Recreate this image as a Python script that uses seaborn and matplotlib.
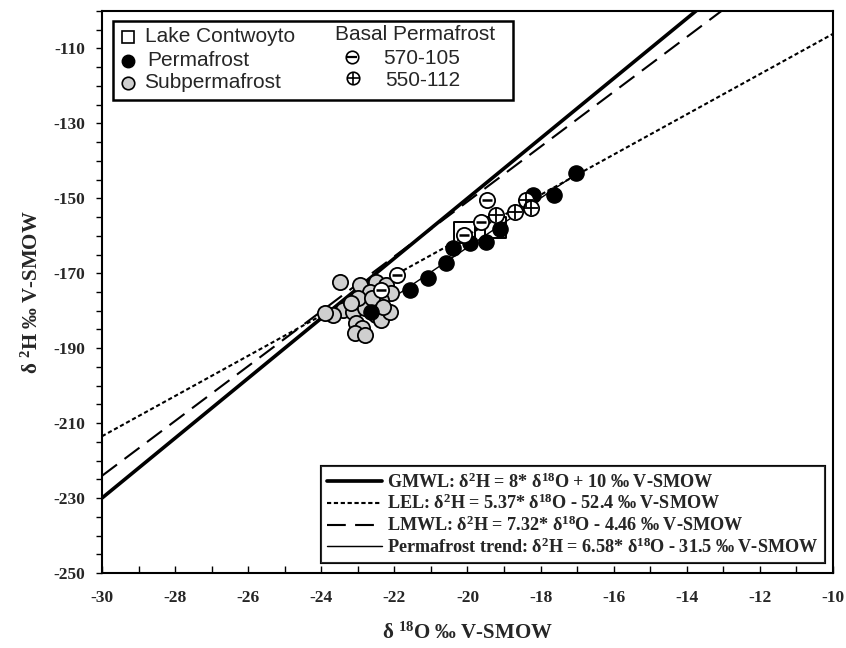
import numpy as np
import pandas as pd
import matplotlib
matplotlib.use("Agg")
import matplotlib.pyplot as plt
from matplotlib.patches import Rectangle
import seaborn as sns

# ---------------- data ----------------
perm_x = [-17.02, -17.63, -18.21, -19.12, -19.50, -19.92, -20.40, -20.58, -21.09, -21.58, -22.63]
perm_y = [-143.3, -149.1, -149.1, -158.2, -161.6, -162.0, -163.3, -167.3, -171.3, -174.5, -180.3]

sub_x = [-23.50, -22.95, -22.49, -22.22, -22.68, -22.08, -23.41, -23.13, -22.81, -22.36,
         -22.49, -23.68, -23.04, -22.90, -23.09, -22.81, -22.36, -22.13, -23.90, -23.00,
         -22.60, -23.20, -22.30]
sub_y = [-172.2, -173.1, -172.2, -173.1, -174.9, -175.3, -179.8, -180.3, -179.3, -177.1,
         -181.1, -181.1, -183.3, -184.7, -186.0, -186.5, -182.5, -180.3, -180.5, -176.5,
         -176.5, -178.0, -179.0]

lake_x = [-20.08, -19.23]
lake_y = [-159.2, -157.8]

b570_x = [-19.48, -19.62, -20.10, -21.93, -22.36]
b570_y = [-150.4, -156.4, -159.8, -170.5, -174.5]

b550_x = [-18.39, -18.25, -18.71, -19.21]
b550_y = [-150.4, -152.7, -153.6, -154.4]

line_names = ["GMWL", "LEL", "LMWL", "Permafrost trend"]
line_slopes = [8.0, 5.37, 7.32, 6.58]
line_intercepts = [10.0, -52.4, -4.46, -31.5]
line_xstart = [-30.0, -30.0, -30.0, -22.6]
line_xend = [-10.0, -10.0, -10.0, -17.0]

x_ticks = [-30, -28, -26, -24, -22, -20, -18, -16, -14, -12, -10]
y_ticks = [-250, -230, -210, -190, -170, -150, -130, -110]

# ---------------- style ----------------
sns.set_theme(style="white")
plt.rcParams["font.family"] = ["Liberation Serif", "DejaVu Serif"]
plt.rcParams["mathtext.fontset"] = "custom"
plt.rcParams["mathtext.rm"] = "Liberation Serif:bold"
plt.rcParams["mathtext.default"] = "rm"

fig = plt.figure(figsize=(8.46, 6.48), dpi=100)
ax = fig.add_axes([102 / 846, 1 - 573 / 648, (833 - 102) / 846, (573 - 11) / 648])

# ---------------- lines ----------------
line_styles = [dict(lw=2.6, dashes=None),
               dict(lw=1.5, dashes=(2.0, 1.3)),
               dict(lw=1.5, dashes=(9, 4.5)),
               dict(lw=1.0, dashes=None)]
handles = []
labels = []
for name, m, b, x0, x1, st in zip(line_names, line_slopes, line_intercepts,
                                 line_xstart, line_xend, line_styles):
    xs = np.array([x0, x1])
    df = pd.DataFrame({"x": xs, "y": m * xs + b})
    sns.lineplot(data=df, x="x", y="y", ax=ax, color="black", lw=st["lw"],
                 zorder=2, legend=False)
    ln = ax.lines[-1]
    if st["dashes"] is not None:
        ln.set_dashes(st["dashes"])
    handles.append(ln)
    sign = "+" if b >= 0 else "-"
    labels.append(f"{name}: δ$^{{2}}$H = {m:g}* δ$^{{18}}$O {sign} {abs(b):g} ‰ V-SMOW")

# ---------------- points ----------------
ms = 120
sns.scatterplot(x=sub_x, y=sub_y, ax=ax, s=ms, color="#cfcfcf", edgecolor="black",
                linewidth=1.3, zorder=3, legend=False)
sns.scatterplot(x=perm_x, y=perm_y, ax=ax, s=ms, color="black", edgecolor="black",
                linewidth=1.0, zorder=4, legend=False)
sns.scatterplot(x=lake_x, y=lake_y, ax=ax, s=230, marker="s", facecolor="none",
                edgecolor="black", linewidth=1.4, zorder=4, legend=False)
sns.scatterplot(x=b570_x, y=b570_y, ax=ax, s=ms, color="white", edgecolor="black",
                linewidth=1.3, zorder=5, legend=False)
sns.scatterplot(x=b570_x, y=b570_y, ax=ax, s=60, marker="_", color="black",
                linewidth=1.8, zorder=6, legend=False)
sns.scatterplot(x=b550_x, y=b550_y, ax=ax, s=ms, color="white", edgecolor="black",
                linewidth=1.3, zorder=5, legend=False)
sns.scatterplot(x=b550_x, y=b550_y, ax=ax, s=110, marker="+", color="black",
                linewidth=1.3, zorder=6, legend=False)

# ---------------- axes ----------------
ax.set_xlim(-30, -10)
ax.set_ylim(-250, -100)
ax.set_xticks(x_ticks)
ax.set_xticklabels([str(t) for t in x_ticks])
ax.set_yticks(y_ticks)
ax.set_yticklabels([str(t) for t in y_ticks])
ax.set_xticks(np.arange(-30, -9, 1), minor=True)
ax.set_yticks(np.arange(-250, -99, 5), minor=True)
ax.tick_params(axis="x", which="both", direction="in", length=5, width=1, color="black",
               bottom=True, top=False, pad=12)
ax.tick_params(axis="y", which="both", direction="out", length=4, width=1, color="black",
               left=True, right=False, pad=8)
for lab in ax.get_xticklabels() + ax.get_yticklabels():
    lab.set_fontweight("bold")
    lab.set_fontsize(12.5)
for sp in ax.spines.values():
    sp.set_color("black")
    sp.set_linewidth(1.5)

ax.set_xlabel("δ $^{18}$O ‰ V-SMOW", fontsize=15, fontweight="bold", labelpad=12)
ax.set_ylabel("δ $^{2}$H ‰ V-SMOW", fontsize=15, fontweight="bold", labelpad=8)
ax.grid(False)

# ---------------- legend: lines ----------------
leg2 = ax.legend(handles, labels, loc="lower right", bbox_to_anchor=(0.9885, 0.018),
                 frameon=True, fancybox=False, edgecolor="black",
                 prop={"family": ["Liberation Serif", "DejaVu Serif"], "weight": "bold", "size": 13.1},
                 handlelength=3.0, handletextpad=0.3, labelspacing=0.12,
                 borderpad=0.35, borderaxespad=0)
leg2.get_frame().set_linewidth(1.5)
ax.add_artist(leg2)

# ---------------- legend: symbols (manual box) ----------------
def fx(px):
    return (px - 102) / (833 - 102)

def fy(py):
    return (573 - py) / (573 - 11)

box = Rectangle((fx(113), fy(100)), fx(513) - fx(113), fy(21) - fy(100),
                transform=ax.transAxes, fill=True, facecolor="white",
                edgecolor="black", lw=1.8, zorder=10)
ax.add_patch(box)
sans = ["Liberation Sans", "DejaVu Sans"]
ax.plot([fx(128)], [fy(37)], marker="s", ms=9, mfc="white", mec="black", mew=1.2,
        transform=ax.transAxes, zorder=11)
ax.plot([fx(128)], [fy(61)], marker="o", ms=9, mfc="black", mec="black",
        transform=ax.transAxes, zorder=11)
ax.plot([fx(128)], [fy(83)], marker="o", ms=9, mfc="#cfcfcf", mec="black", mew=1.2,
        transform=ax.transAxes, zorder=11)
ax.plot([fx(352)], [fy(57)], marker="o", ms=9, mfc="white", mec="black", mew=1.2,
        transform=ax.transAxes, zorder=11)
ax.plot([fx(352)], [fy(57)], marker="_", ms=7, mec="black", mew=1.6,
        transform=ax.transAxes, zorder=12)
ax.plot([fx(353)], [fy(78)], marker="o", ms=9, mfc="white", mec="black", mew=1.2,
        transform=ax.transAxes, zorder=11)
ax.plot([fx(353)], [fy(78)], marker="+", ms=8, mec="black", mew=1.2,
        transform=ax.transAxes, zorder=12)
for txt, px, py in [("Lake Contwoyto", 145, 37), ("Permafrost", 147, 61),
                    ("Subpermafrost", 144, 83), ("Basal Permafrost", 335, 34),
                    ("570-105", 383, 59), ("550-112", 385, 81)]:
    ax.text(fx(px), fy(py), txt, transform=ax.transAxes, family=sans, fontsize=15,
            ha="left", va="center", zorder=12)

fig.savefig("out.png", dpi=100)
